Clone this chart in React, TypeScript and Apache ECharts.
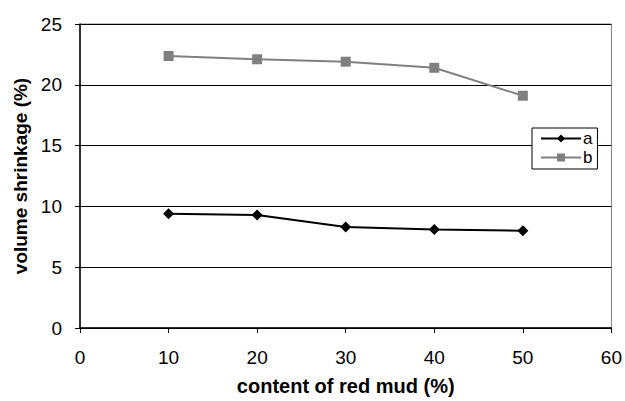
import React, { useEffect, useRef } from "react";
import * as echarts from "echarts";

const xValues = [10, 20, 30, 40, 50];
const seriesA = [9.4, 9.3, 8.3, 8.1, 8.0];
const seriesB = [22.37, 22.1, 21.9, 21.4, 19.1];
const seriesNames = ["a", "b"];

export default function App() {
  const ref = useRef<HTMLDivElement>(null);
  useEffect(() => {
    const chart = echarts.init(ref.current!, null, { renderer: "svg" });
    const font = "'Liberation Sans', Arial, sans-serif";
    chart.setOption({
      animation: false,
      backgroundColor: "#ffffff",
      textStyle: { fontFamily: font },
      grid: {
        left: 80,
        top: 24,
        width: 534,
        height: 304,
        show: true,
        borderColor: "#808080",
        borderWidth: 1,
        backgroundColor: "transparent",
      },
      legend: {
        orient: "vertical",
        left: 532,
        top: 128,
        padding: [2, 5, 3, 8],
        itemGap: 2,
        itemWidth: 40,
        itemHeight: 10,
        borderColor: "#000",
        borderWidth: 1,
        backgroundColor: "#fff",
        textStyle: { fontSize: 17, color: "#000", fontFamily: font, padding: [0, 0, 0, -3] },
        data: seriesNames,
      },
      xAxis: {
        type: "value",
        min: 0,
        max: 60,
        interval: 10,
        name: "content of red mud (%)",
        nameLocation: "middle",
        nameGap: 48,
        nameTextStyle: { fontSize: 20, fontWeight: "bold", color: "#000", fontFamily: font, verticalAlign: "top" },
        axisLine: { show: true, onZero: false, lineStyle: { color: "#000", width: 1.5 } },
        axisTick: { show: true, inside: false, length: 5, lineStyle: { color: "#000", width: 1 } },
        axisLabel: { fontSize: 19, color: "#000", margin: 20, fontFamily: font },
        splitLine: { show: false },
      },
      yAxis: {
        type: "value",
        min: 0,
        max: 25,
        interval: 5,
        name: "volume shrinkage (%)",
        nameLocation: "middle",
        nameGap: 43,
        nameRotate: 90,
        nameTextStyle: { fontSize: 19, fontWeight: "bold", color: "#000", fontFamily: font },
        axisLine: { show: true, lineStyle: { color: "#000", width: 1.5 } },
        axisTick: { show: true, inside: false, length: 5, lineStyle: { color: "#000", width: 1 } },
        axisLabel: { fontSize: 19, color: "#000", margin: 18, fontFamily: font },
        splitLine: { show: true, lineStyle: { color: "#000", width: 1 } },
      },
      series: [
        {
          name: seriesNames[0],
          type: "line",
          data: xValues.map((x, i) => [x, seriesA[i]]),
          symbol: "diamond",
          symbolSize: 11,
          itemStyle: { color: "#000" },
          lineStyle: { color: "#000", width: 2 },
        },
        {
          name: seriesNames[1],
          type: "line",
          data: xValues.map((x, i) => [x, seriesB[i]]),
          symbol: "rect",
          symbolSize: 10,
          itemStyle: { color: "#808080" },
          lineStyle: { color: "#808080", width: 2 },
        },
      ],
    });
    return () => chart.dispose();
  }, []);
  return <div ref={ref} style={{ width: 625, height: 401, position: "absolute", left: 0, top: 0 }} />;
}
